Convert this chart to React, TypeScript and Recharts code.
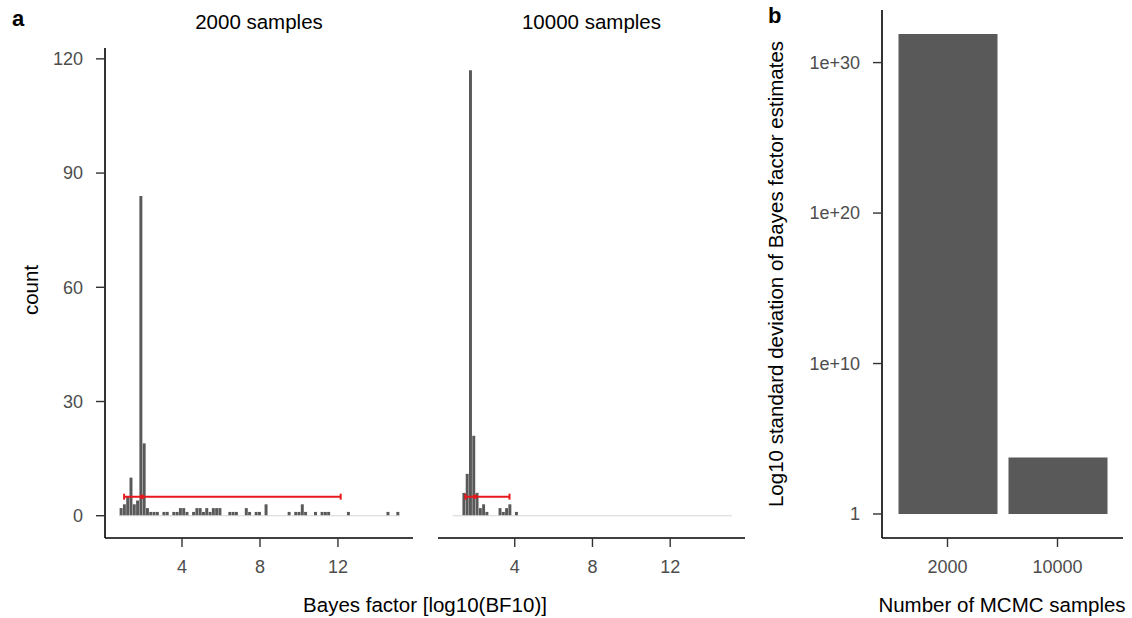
import React from "react";
import {
  Bar,
  BarChart,
  ComposedChart,
  ErrorBar,
  ReferenceLine,
  Scatter,
  XAxis,
  YAxis,
} from "recharts";

// histogram bins (log10 BF), shared by both facets
const binStart = 0.8;
const binWidth = 0.169;

const counts2000 = [
  2, 3, 5, 10, 3, 4, 84, 19, 2, 1,
  1, 1, 0, 1, 1, 0, 1, 1, 2, 2,
  1, 0, 1, 2, 2, 1, 2, 1, 2, 2,
  2, 0, 0, 1, 1, 1, 0, 0, 2, 1,
  0, 1, 1, 0, 3, 0, 0, 0, 0, 0,
  0, 1, 0, 1, 1, 3, 1, 0, 0, 1,
  0, 1, 1, 1, 0, 0, 0, 0, 0, 1,
  0, 0, 0, 0, 0, 0, 0, 0, 0, 0,
  0, 1, 0, 0, 1,
];

const counts10000 = [
  0, 0, 0, 6, 11, 117, 21, 6, 2, 3,
  1, 0, 0, 0, 2, 1, 2, 3, 0, 1,
  0, 0, 0, 0, 0, 0, 0, 0, 0, 0,
  0, 0, 0, 0, 0, 0, 0, 0, 0, 0,
  0, 0, 0, 0, 0, 0, 0, 0, 0, 0,
  0, 0, 0, 0, 0, 0, 0, 0, 0, 0,
  0, 0, 0, 0, 0, 0, 0, 0, 0, 0,
  0, 0, 0, 0, 0, 0, 0, 0, 0, 0,
  0, 0, 0, 0, 0,
];

// red interval per facet
const intervalLow = [1.03, 1.46];
const intervalMid = [1.95, 1.95];
const intervalHigh = [12.14, 3.73];
const intervalY = 5;

const facetTitles = ["2000 samples", "10000 samples"];
const countTicks = [0, 30, 60, 90, 120];
const bfTicks = [4, 8, 12];

// panel b
const mcmcSamples = ["2000", "10000"];
const sdEstimates = [7.9e31, 5.75e3];
const sdTicks = [0, 10, 20, 30];

const FONT = "'Liberation Sans', Arial, Helvetica, sans-serif";
const GREY = "#595959";
const RED = "#e8191c";
const BF_DOMAIN = [0.05, 15.85];

const axisLine = { stroke: "#000", strokeWidth: 1.6 };
const tickLine = { stroke: "#333", strokeWidth: 1.4 };
const tickStyle = { fill: "#4d4d4d", fontSize: 18, fontFamily: FONT };

function Dot(props: any) {
  return <circle cx={props.cx} cy={props.cy} r={2.2} fill={RED} />;
}

function Facet({ counts, k, left, width, margin, showY }: any) {
  const data = counts.map((c: number, i: number) => ({
    bf: binStart + binWidth * (i + 0.5),
    count: c,
  }));
  const summary = [
    {
      bf: intervalMid[k],
      count: intervalY,
      err: [intervalMid[k] - intervalLow[k], intervalHigh[k] - intervalMid[k]],
    },
  ];
  const plotW = width - margin.left - margin.right - (showY ? 105 : 0);
  const barPx = (binWidth * plotW) / (BF_DOMAIN[1] - BF_DOMAIN[0]);
  return (
    <div style={{ position: "absolute", left, top: 0 }}>
      <ComposedChart
        width={width}
        height={618}
        data={data}
        margin={margin}
        barCategoryGap={0}
        barGap={0}
      >
        <XAxis
          type="number"
          dataKey="bf"
          domain={BF_DOMAIN}
          allowDataOverflow
          ticks={bfTicks}
          height={80}
          axisLine={axisLine}
          tickLine={tickLine}
          tickSize={9}
          tickMargin={13}
          tick={tickStyle}
        />
        <XAxis xAxisId="sum" type="number" dataKey="bf" domain={BF_DOMAIN} allowDataOverflow hide />
        <YAxis
          type="number"
          domain={[-5.85, 122.85]}
          allowDataOverflow
          ticks={countTicks}
          hide={!showY}
          width={showY ? 105 : 0}
          axisLine={axisLine}
          tickLine={tickLine}
          tickSize={9}
          tickMargin={13}
          tick={tickStyle}
        />
        <ReferenceLine
          segment={[
            { x: binStart, y: 0 },
            { x: binStart + binWidth * counts.length, y: 0 },
          ]}
          stroke="#d6d6d6"
          strokeWidth={1.2}
        />
        <Bar dataKey="count" fill={GREY} barSize={barPx} isAnimationActive={false} />
        <Scatter
          xAxisId="sum"
          data={summary}
          dataKey="count"
          shape={Dot}
          isAnimationActive={false}
        >
          <ErrorBar dataKey="err" direction="x" width={3} stroke={RED} strokeWidth={2} isAnimationActive={false} />
        </Scatter>
      </ComposedChart>
    </div>
  );
}

function SdPanel() {
  const data = mcmcSamples.map((s, i) => ({
    samples: s,
    logSd: Math.log10(sdEstimates[i]),
  }));
  return (
    <div style={{ position: "absolute", left: 760, top: 0 }}>
      <BarChart
        width={372}
        height={618}
        data={data}
        margin={{ top: 10, right: 9, left: 0, bottom: 0 }}
      >
        <XAxis
          dataKey="samples"
          padding={{ left: 10.5, right: 10.5 }}
          height={80}
          axisLine={axisLine}
          tickLine={tickLine}
          tickSize={9}
          tickMargin={13}
          tick={tickStyle}
        />
        <YAxis
          type="number"
          domain={[-1.595, 33.495]}
          allowDataOverflow
          ticks={sdTicks}
          tickFormatter={(v: number) => (v === 0 ? "1" : `1e+${v}`)}
          width={122}
          axisLine={axisLine}
          tickLine={tickLine}
          tickSize={9}
          tickMargin={13}
          tick={tickStyle}
        />
        <Bar dataKey="logSd" fill={GREY} barSize={99} isAnimationActive={false} />
      </BarChart>
    </div>
  );
}

export default function App() {
  const title = { fontFamily: FONT, fontSize: 20.5, fill: "#000" };
  return (
    <div style={{ position: "relative", width: 1132, height: 618, background: "#fff" }}>
      <style>{"body{margin:0}"}</style>
      <Facet
        counts={counts2000}
        k={0}
        left={0}
        width={430}
        margin={{ top: 48, right: 17, left: 0, bottom: 0 }}
        showY
      />
      <Facet
        counts={counts10000}
        k={1}
        left={430}
        width={330}
        margin={{ top: 48, right: 15, left: 8, bottom: 0 }}
        showY={false}
      />
      <SdPanel />
      <svg
        width={1132}
        height={618}
        style={{ position: "absolute", left: 0, top: 0, pointerEvents: "none" }}
      >
        <text x={12} y={18} fontFamily={FONT} fontSize={22} fontWeight="bold" dominantBaseline="central">
          a
        </text>
        <text x={768} y={15} fontFamily={FONT} fontSize={22} fontWeight="bold" dominantBaseline="central">
          b
        </text>
        <text x={259} y={21} textAnchor="middle" dominantBaseline="central" {...title}>
          {facetTitles[0]}
        </text>
        <text x={591.5} y={21} textAnchor="middle" dominantBaseline="central" {...title}>
          {facetTitles[1]}
        </text>
        <text
          x={30}
          y={290}
          textAnchor="middle"
          dominantBaseline="central"
          transform="rotate(-90 30 290)"
          {...title}
        >
          count
        </text>
        <text x={425} y={604} textAnchor="middle" dominantBaseline="central" {...title}>
          Bayes factor [log10(BF10)]
        </text>
        <text
          x={775}
          y={274}
          textAnchor="middle"
          dominantBaseline="central"
          transform="rotate(-90 775 274)"
          {...title}
        >
          Log10 standard deviation of Bayes factor estimates
        </text>
        <text x={1002} y={604} textAnchor="middle" dominantBaseline="central" {...title}>
          Number of MCMC samples
        </text>
      </svg>
    </div>
  );
}
